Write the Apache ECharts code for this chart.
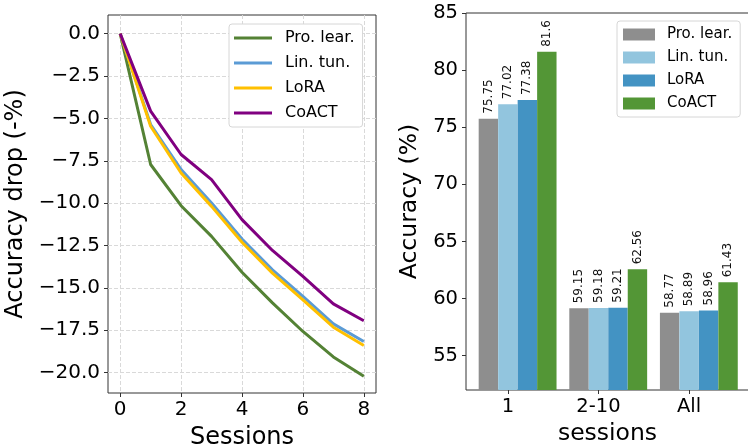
<!DOCTYPE html>
<html>
<head>
<meta charset="utf-8">
<script src="https://cdn.jsdelivr.net/npm/echarts@6/dist/echarts.min.js"></script>
<style>
  body { margin: 0; background: #fff; }
  #left { position: absolute; left: 0; top: 0; width: 380px; height: 445px; }
  #right { position: absolute; left: 380px; top: 0; width: 368px; height: 445px; }
</style>
</head>
<body>
<div id="left"></div>
<div id="right"></div>
<script>
// left panel: accuracy drop per session
var sessions = [0, 1, 2, 3, 4, 5, 6, 7, 8];
var dropPro = [0, -7.72, -10.15, -11.96, -14.08, -15.88, -17.57, -19.07, -20.21];
var dropLin = [0, -5.36, -8.02, -9.99, -12.12, -13.93, -15.50, -17.12, -18.16];
var dropLora = [0, -5.46, -8.22, -10.19, -12.31, -14.13, -15.70, -17.32, -18.40];
var dropCoact = [0, -4.57, -7.13, -8.61, -10.97, -12.79, -14.32, -15.94, -16.94];
var dropTicks = [-20, -17.5, -15, -12.5, -10, -7.5, -5, -2.5, 0];
var sessionTicks = [0, 2, 4, 6, 8];

// right panel: accuracy per session group
var groups = ['1', '2-10', 'All'];
var accPro = [75.75, 59.15, 58.77];
var accLin = [77.02, 59.18, 58.89];
var accLora = [77.38, 59.21, 58.96];
var accCoact = [81.6, 62.56, 61.43];
var accTicks = [55, 60, 65, 70, 75, 80, 85];

var methods = ['Pro. lear.', 'Lin. tun.', 'LoRA', 'CoACT'];
var font = 'DejaVu Sans';

function minus(v) {
    return (v < 0 ? '\u2212' : '') + Math.abs(v).toFixed(1);
}
function pairs(xs, ys) {
    var out = [];
    for (var i = 0; i < xs.length; i++) out.push([xs[i], ys[i]]);
    return out;
}

var lineColors = ['#548235', '#5b9bd5', '#ffc000', '#800080'];
var lineData = [dropPro, dropLin, dropLora, dropCoact];
var lineSeries = [];
for (var i = 0; i < 4; i++) {
    lineSeries.push({
        name: methods[i],
        type: 'line',
        data: pairs(sessions, lineData[i]),
        showSymbol: false,
        lineStyle: { width: 3, color: lineColors[i] },
        itemStyle: { color: lineColors[i] }
    });
}

var leftChart = echarts.init(document.getElementById('left'));
leftChart.setOption({
    animation: false,
    textStyle: { fontFamily: font },
    grid: { left: 108, right: 4, top: 15, bottom: 52, outerBoundsMode: 'none', show: true, borderColor: '#333', borderWidth: 1 },
    legend: {
        left: 229, top: 24,
        orient: 'vertical',
        data: methods,
        icon: 'rect',
        itemWidth: 38, itemHeight: 3,
        itemGap: 9,
        padding: [6, 8, 6, 5],
        backgroundColor: '#fff',
        borderColor: '#d6d6d6', borderWidth: 1, borderRadius: 3,
        textStyle: { fontFamily: font, fontSize: 16, color: '#000', padding: [0, 0, 0, 8] }
    },
    xAxis: {
        type: 'value', min: -0.4, max: 8.4,
        name: 'Sessions', nameLocation: 'middle', nameGap: 33,
        nameTextStyle: { fontFamily: font, fontSize: 24, color: '#000' },
        axisLine: { show: false, onZero: false },
        axisTick: { show: true, length: 4, lineStyle: { color: '#333' }, customValues: sessionTicks },
        axisLabel: { fontFamily: font, fontSize: 20, color: '#000', margin: 7, customValues: sessionTicks },
        splitLine: { show: true, lineStyle: { color: '#d9d9d9', type: [4, 2] } }
    },
    yAxis: {
        type: 'value', min: -21.2, max: 1.1,
        name: 'Accuracy drop (-%)', nameLocation: 'middle', nameGap: 69,
        nameTextStyle: { fontFamily: font, fontSize: 24, color: '#000' },
        axisLine: { show: false, onZero: false },
        axisTick: { show: true, length: 4, lineStyle: { color: '#333' }, customValues: dropTicks },
        axisLabel: { fontFamily: font, fontSize: 20, color: '#000', margin: 8, formatter: minus, customValues: dropTicks },
        splitLine: { show: true, lineStyle: { color: '#d9d9d9', type: [4, 2] } }
    },
    series: lineSeries
});

var barColors = ['#8e8e8e', '#92c5de', '#4393c3', '#539636'];
var barData = [accPro, accLin, accLora, accCoact];
var barW = 0.215;
var barSeries = [];
for (var k = 0; k < 4; k++) {
    var pts = [];
    for (var g = 0; g < groups.length; g++) {
        pts.push([g + (k - 1) * barW, barData[k][g]]);
    }
    barSeries.push({
        name: methods[k],
        type: 'bar',
        data: pts,
        barWidth: 19.4,
        barGap: '-100%',
        itemStyle: { color: barColors[k] },
        label: {
            show: true, position: 'top', rotate: 90,
            align: 'left', verticalAlign: 'middle', distance: 5,
            fontFamily: font, fontSize: 12, color: '#111',
            formatter: function (p) { return String(p.value[1]); }
        }
    });
}

var rightChart = echarts.init(document.getElementById('right'));
rightChart.setOption({
    animation: false,
    textStyle: { fontFamily: font },
    grid: { left: 86, right: -1, top: 13, bottom: 55, outerBoundsMode: 'none', show: true, borderColor: '#333', borderWidth: 1 },
    legend: {
        left: 237, top: 21,
        orient: 'vertical',
        data: methods,
        icon: 'rect',
        itemWidth: 32, itemHeight: 12,
        itemGap: 8,
        padding: [6, 8, 6, 6],
        backgroundColor: '#fff',
        borderColor: '#d6d6d6', borderWidth: 1, borderRadius: 3,
        textStyle: { fontFamily: font, fontSize: 15, color: '#000', padding: [0, 0, 0, 7] }
    },
    xAxis: {
        type: 'value', min: -0.462, max: 2.661,
        name: 'sessions', nameLocation: 'middle', nameGap: 30,
        nameTextStyle: { fontFamily: font, fontSize: 23.5, color: '#000' },
        axisLine: { show: false, onZero: false },
        axisTick: { show: true, length: 4, lineStyle: { color: '#333' }, customValues: [0, 1, 2] },
        axisLabel: {
            fontFamily: font, fontSize: 19.5, color: '#000', margin: 7, customValues: [0, 1, 2],
            formatter: function (v) { return groups[Math.round(v)]; }
        },
        splitLine: { show: false }
    },
    yAxis: {
        type: 'value', min: 52, max: 85,
        name: 'Accuracy (%)', nameLocation: 'middle', nameGap: 31,
        nameTextStyle: { fontFamily: font, fontSize: 23.5, color: '#000' },
        axisLine: { show: false, onZero: false },
        axisTick: { show: true, length: 4, lineStyle: { color: '#333' }, customValues: accTicks },
        axisLabel: { fontFamily: font, fontSize: 19.5, color: '#000', margin: 8, customValues: accTicks },
        splitLine: { show: false }
    },
    series: barSeries
});
</script>
</body>
</html>
